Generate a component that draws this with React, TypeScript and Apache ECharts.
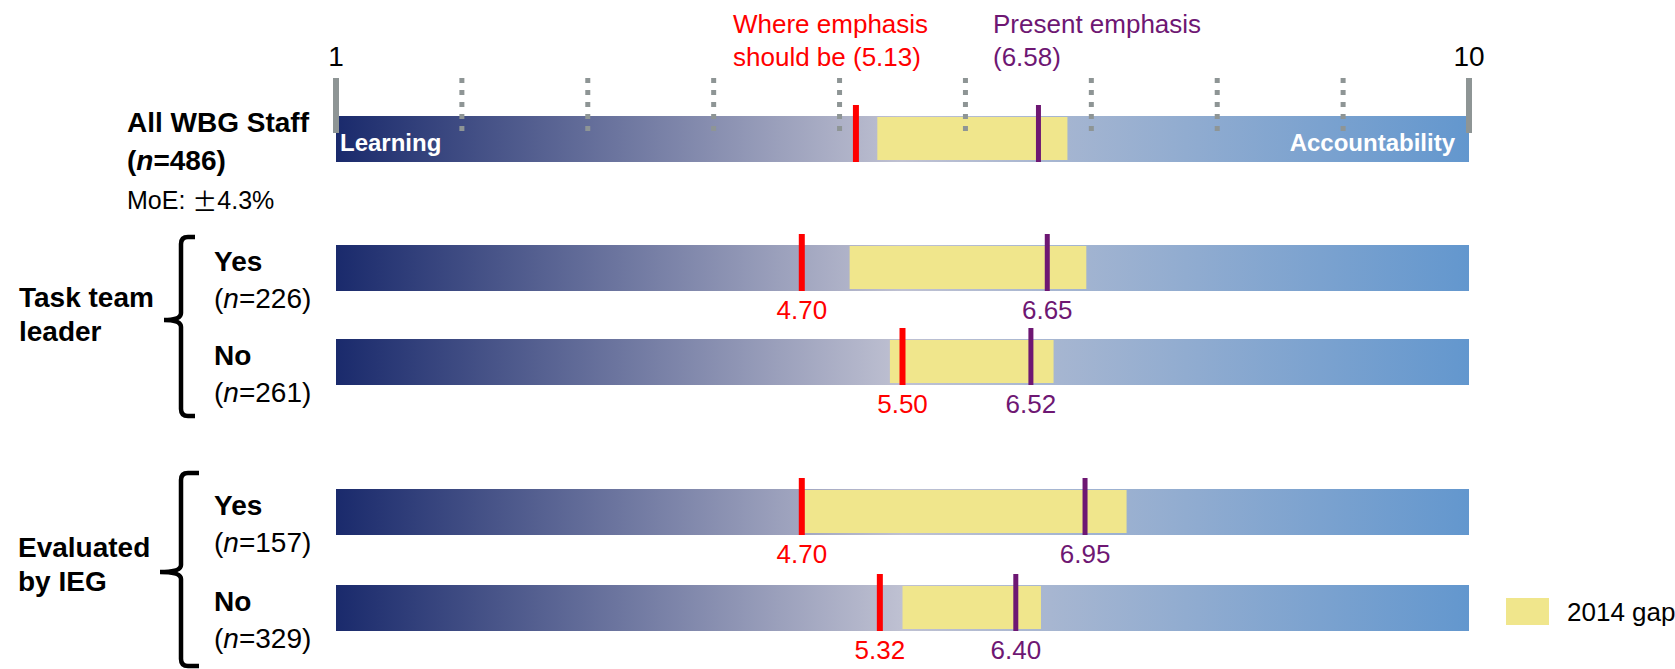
import React, { useEffect, useRef } from 'react';
import * as echarts from 'echarts';

// ---------------- data ----------------
const rowLabels = ['All WBG Staff', 'Yes', 'No', 'Yes', 'No'];
const rowN = [486, 226, 261, 157, 329];
const groupLabels = ['Task team\nleader', 'Evaluated\nby IEG'];
const shouldBe = [5.13, 4.7, 5.5, 4.7, 5.32];
const present = [6.58, 6.65, 6.52, 6.95, 6.4];
const gap2014Start = [5.3, 5.08, 5.4, 4.72, 5.5];
const gap2014End = [6.81, 6.96, 6.7, 7.28, 6.6];
const scaleMin = 1;
const scaleMax = 10;
const tickValues = [1, 2, 3, 4, 5, 6, 7, 8, 9, 10];
const endLabels = ['Learning', 'Accountability'];
const moeValue = '4.3%';
const legendName = '2014 gap';

// ---------------- layout / style ----------------
const W = 1675;
const H = 669;
const LEFT = 336;
const RIGHT = 206;
const BAR_TOP = [116, 245, 339, 489, 585];
const BAR_H = 46;
const AXIS_TOP = 78;
const AXIS_H = 55;
const FONT = '"Liberation Sans", Arial, Helvetica, sans-serif';
const CJK = '"Noto Sans CJK JP", "Noto Sans CJK SC", sans-serif';
const RED = '#FF0000';
const PURPLE = '#6E1773';
const KHAKI = '#F0E68C';
const TICK = '#8E9595';

const bracePath = (x: number, top: number, bot: number, mid: number, serif: number, tip: number) => {
  const r = 7;
  return `M${x + serif} ${top} L${x + r} ${top} Q${x} ${top} ${x} ${top + r} L${x} ${mid - r} Q${x} ${mid} ${x - tip} ${mid} Q${x} ${mid} ${x} ${mid + r} L${x} ${bot - r} Q${x} ${bot} ${x + r} ${bot} L${x + serif} ${bot}`;
};

echarts.graphic.registerShape('braceTTL', echarts.graphic.extendPath(bracePath(181, 237, 416, 320, 14, 17), {}));
echarts.graphic.registerShape('braceIEG', echarts.graphic.extendPath(bracePath(181, 473, 666, 572, 18, 21), {}));

function buildOption() {
  const grid: any[] = [{ left: LEFT, right: RIGHT, top: AXIS_TOP, height: AXIS_H }];
  const xAxis: any[] = [
    {
      gridIndex: 0,
      type: 'value',
      position: 'top',
      min: scaleMin,
      max: scaleMax,
      interval: 1,
      axisLine: { show: false },
      axisTick: { show: false },
      splitLine: { show: false },
      axisLabel: {
        margin: 8,
        fontSize: 28,
        color: '#000',
        fontFamily: FONT,
        formatter: (v: number) => (v === scaleMin || v === scaleMax ? String(v) : ''),
      },
    },
  ];
  const yAxis: any[] = [{ gridIndex: 0, type: 'value', min: 0, max: 1, show: false }];
  const series: any[] = [
    {
      type: 'custom',
      name: 'ticks',
      xAxisIndex: 0,
      yAxisIndex: 0,
      z: 10,
      data: tickValues.map((v) => [v, 0]),
      renderItem: (params: any, api: any) => {
        const v = api.value(0);
        const top = api.coord([v, 1]);
        const bot = api.coord([v, 0]);
        if (v === scaleMin || v === scaleMax) {
          return {
            type: 'rect',
            shape: { x: top[0] - 3, y: top[1], width: 6, height: bot[1] - top[1] },
            style: { fill: TICK },
          };
        }
        return {
          type: 'line',
          shape: { x1: top[0], y1: top[1], x2: top[0], y2: bot[1] },
          style: { stroke: TICK, lineWidth: 5, lineDash: [5, 7] },
        };
      },
    },
  ];

  const markerItem = (color: string, width: number, showLabel: boolean) => (params: any, api: any) => {
    const v = api.value(0);
    const top = api.coord([v, 1]);
    const bot = api.coord([v, 0]);
    const children: any[] = [
      {
        type: 'rect',
        shape: { x: top[0] - width / 2, y: top[1] - 11, width, height: bot[1] - top[1] + 11 },
        style: { fill: color },
      },
    ];
    if (showLabel) {
      children.push({
        type: 'text',
        x: top[0],
        y: bot[1] + 19,
        style: {
          text: v.toFixed(2),
          fill: color,
          fontSize: 26,
          fontFamily: FONT,
          align: 'center',
          verticalAlign: 'middle',
        },
      });
    }
    return { type: 'group', children };
  };

  rowLabels.forEach((_, i) => {
    const g = i + 1;
    grid.push({ left: LEFT, right: RIGHT, top: BAR_TOP[i], height: BAR_H });
    xAxis.push({ gridIndex: g, type: 'value', min: scaleMin, max: scaleMax, show: false });
    yAxis.push({ gridIndex: g, type: 'value', min: 0, max: 1, show: false });
    series.push({
      type: 'custom',
      name: 'scale',
      xAxisIndex: g,
      yAxisIndex: g,
      z: 2,
      data: [[scaleMin, scaleMax]],
      renderItem: (params: any, api: any) => {
        const p0 = api.coord([api.value(0), 1]);
        const p1 = api.coord([api.value(1), 0]);
        const children: any[] = [
          {
            type: 'rect',
            shape: { x: p0[0], y: p0[1], width: p1[0] - p0[0], height: p1[1] - p0[1] },
            style: {
              fill: new echarts.graphic.LinearGradient(0, 0, 1, 0, [
                { offset: 0, color: '#1A2A6C' },
                { offset: 0.5, color: '#BFC1D2' },
                { offset: 1, color: '#6397CE' },
              ]),
            },
          },
        ];
        if (i === 0) {
          const cy = (p0[1] + p1[1]) / 2 + 3;
          children.push({
            type: 'text',
            x: p0[0] + 4,
            y: cy,
            style: { text: endLabels[0], fill: '#fff', fontSize: 24, fontWeight: 'bold', fontFamily: FONT, align: 'left', verticalAlign: 'middle' },
          });
          children.push({
            type: 'text',
            x: p1[0] - 14,
            y: cy,
            style: { text: endLabels[1], fill: '#fff', fontSize: 24, fontWeight: 'bold', fontFamily: FONT, align: 'right', verticalAlign: 'middle' },
          });
        }
        return { type: 'group', children };
      },
    });
    series.push({
      type: 'custom',
      name: legendName,
      xAxisIndex: g,
      yAxisIndex: g,
      z: 3,
      itemStyle: { color: KHAKI },
      data: [[gap2014Start[i], gap2014End[i]]],
      renderItem: (params: any, api: any) => {
        const p0 = api.coord([api.value(0), 1]);
        const p1 = api.coord([api.value(1), 0]);
        return {
          type: 'rect',
          shape: { x: p0[0], y: p0[1] + 1, width: p1[0] - p0[0], height: p1[1] - p0[1] - 3 },
          style: { fill: KHAKI },
        };
      },
    });
    series.push({
      type: 'custom',
      name: 'Where emphasis should be',
      xAxisIndex: g,
      yAxisIndex: g,
      z: 4,
      data: [[shouldBe[i], 0]],
      renderItem: markerItem(RED, 6, i > 0),
    });
    series.push({
      type: 'custom',
      name: 'Present emphasis',
      xAxisIndex: g,
      yAxisIndex: g,
      z: 4,
      data: [[present[i], 0]],
      renderItem: markerItem(PURPLE, 5, i > 0),
    });
  });

  const boldStyle = { fontSize: 28, fontWeight: 'bold', fontFamily: FONT, fill: '#000' };
  const graphic: any[] = [
    {
      type: 'text',
      x: 733,
      y: 7,
      style: {
        text: `Where emphasis\nshould be (${shouldBe[0].toFixed(2)})`,
        fill: RED,
        fontSize: 26,
        fontFamily: FONT,
        lineHeight: 33,
        align: 'left',
        verticalAlign: 'top',
      },
    },
    {
      type: 'text',
      x: 993,
      y: 7,
      style: {
        text: `Present emphasis\n(${present[0].toFixed(2)})`,
        fill: PURPLE,
        fontSize: 26,
        fontFamily: FONT,
        lineHeight: 33,
        align: 'left',
        verticalAlign: 'top',
      },
    },
    {
      type: 'text',
      x: 127,
      y: 122,
      style: { ...boldStyle, text: rowLabels[0], align: 'left', verticalAlign: 'middle' },
    },
    {
      type: 'text',
      x: 127,
      y: 160,
      style: {
        text: `{b|(}{bi|n}{b|=${rowN[0]})}`,
        align: 'left',
        verticalAlign: 'middle',
        rich: {
          b: { fontSize: 28, fontWeight: 'bold', fontFamily: FONT, fill: '#000' },
          bi: { fontSize: 28, fontWeight: 'bold', fontStyle: 'italic', fontFamily: FONT, fill: '#000' },
        },
      },
    },
    {
      type: 'text',
      x: 127,
      y: 200,
      style: {
        text: `{a|MoE: }{pm|±}{a|${moeValue}}`,
        align: 'left',
        verticalAlign: 'middle',
        rich: {
          a: { fontSize: 25, fontFamily: FONT, fill: '#000' },
          pm: { fontSize: 25, fontFamily: CJK, fill: '#000' },
        },
      },
    },
    {
      type: 'text',
      x: 19,
      y: 314,
      style: { ...boldStyle, text: groupLabels[0], lineHeight: 34, align: 'left', verticalAlign: 'middle' },
    },
    {
      type: 'text',
      x: 18,
      y: 564,
      style: { ...boldStyle, text: groupLabels[1], lineHeight: 34, align: 'left', verticalAlign: 'middle' },
    },
    { type: 'braceTTL', x: 0, y: 0, style: { stroke: '#000', lineWidth: 4.5, fill: 'none' } },
    { type: 'braceIEG', x: 0, y: 0, style: { stroke: '#000', lineWidth: 4.5, fill: 'none' } },
  ];
  for (let i = 1; i < rowLabels.length; i++) {
    graphic.push({
      type: 'text',
      x: 214,
      y: BAR_TOP[i] + 16,
      style: { ...boldStyle, text: rowLabels[i], align: 'left', verticalAlign: 'middle' },
    });
    graphic.push({
      type: 'text',
      x: 214,
      y: BAR_TOP[i] + 53,
      style: {
        text: `{r|(}{i|n}{r|=${rowN[i]})}`,
        align: 'left',
        verticalAlign: 'middle',
        rich: {
          r: { fontSize: 28, fontFamily: FONT, fill: '#000' },
          i: { fontSize: 28, fontStyle: 'italic', fontFamily: FONT, fill: '#000' },
        },
      },
    });
  }

  return {
    animation: false,
    backgroundColor: '#fff',
    grid,
    xAxis,
    yAxis,
    series,
    graphic,
    legend: {
      left: 1506,
      top: 598,
      padding: 0,
      itemWidth: 43,
      itemHeight: 27,
      selectedMode: false,
      data: [{ name: legendName, icon: 'rect', itemStyle: { color: KHAKI } }],
      textStyle: { fontSize: 26, color: '#000', fontFamily: FONT, lineHeight: 27, padding: [0, 0, 0, 13] },
    },
  };
}

export default function App() {
  const ref = useRef<HTMLDivElement>(null);
  useEffect(() => {
    document.body.style.margin = '0';
    const chart = echarts.init(ref.current!, null, { renderer: 'svg' });
    chart.setOption(buildOption() as any);
    return () => chart.dispose();
  }, []);
  return <div ref={ref} style={{ width: W, height: H }} />;
}
